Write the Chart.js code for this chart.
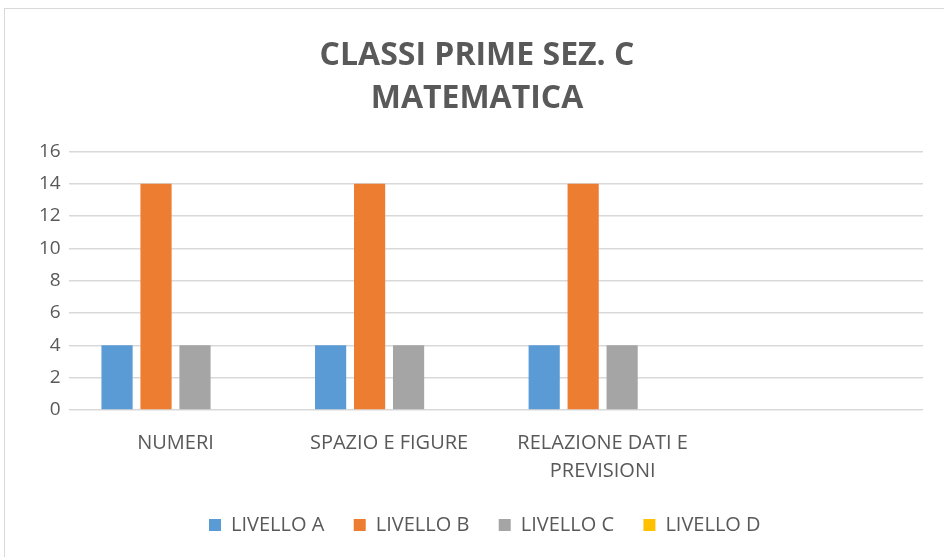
<!DOCTYPE html>
<html>
<head>
<meta charset="utf-8">
<script src="https://cdn.jsdelivr.net/npm/chart.js@4"></script>
<style>
	body { margin: 0; background: #fff; overflow: hidden; }
	#wrap { position: relative; width: 944px; height: 557px; overflow: hidden; }
	#frame { position: absolute; left: 4px; top: 8px; width: 940px; height: 549px; border-left: 1px solid #d9d9d9; border-top: 1px solid #d9d9d9; box-sizing: border-box; pointer-events: none; }
	canvas { position: absolute; left: 8px; top: 0; }
</style>
</head>
<body>
<div id="wrap">
	<canvas id="chart" width="944" height="557"></canvas>
	<div id="frame"></div>
</div>
<script>
const categories = ['NUMERI', 'SPAZIO E FIGURE', ['RELAZIONE DATI E', 'PREVISIONI'], ''];
const livelloA = [4, 4, 4, null];
const livelloB = [14, 14, 14, null];
const livelloC = [4, 4, 4, null];
const livelloD = [0, 0, 0, null];
const yTicks = [0, 2, 4, 6, 8, 10, 12, 14, 16];

const font = "'Open Sans', sans-serif";
const grey = '#595959';

// the legend sits a bit right of centre in the original
const legendNudge = {
	id: 'legendNudge',
	afterLayout(chart) {
		chart.legend.left += 13;
		chart.legend.right += 13;
	},
};

new Chart(document.getElementById('chart'), {
	type: 'bar',
	data: {
		labels: categories,
		datasets: [
			{ label: 'LIVELLO A', data: livelloA, backgroundColor: '#5b9bd5' },
			{ label: 'LIVELLO B', data: livelloB, backgroundColor: '#ed7d31' },
			{ label: 'LIVELLO C', data: livelloC, backgroundColor: '#a5a5a5' },
			{ label: 'LIVELLO D', data: livelloD, backgroundColor: '#ffc000' },
		],
	},
	plugins: [legendNudge],
	options: {
		responsive: false,
		animation: false,
		layout: { padding: { left: 23, right: 29, top: 34, bottom: 12 } },
		datasets: { bar: { barPercentage: 0.8, categoryPercentage: 0.73 } },
		plugins: {
			title: {
				display: true,
				text: ['CLASSI PRIME SEZ. C', 'MATEMATICA'],
				color: grey,
				font: { family: font, size: 32, weight: 'bold', lineHeight: 1.35 },
				padding: { top: 0, bottom: 31 },
			},
			legend: {
				position: 'bottom',
				labels: {
					color: grey,
					font: { family: font, size: 20 },
					boxWidth: 12,
					boxHeight: 12,
					padding: 19,
					// trailing spaces widen the gap between items without growing the legend's height
					generateLabels: (chart) => Chart.defaults.plugins.legend.labels.generateLabels(chart)
						.map(item => ({ ...item, text: item.text + '  ' })),
				},
			},
			tooltip: { enabled: false },
		},
		scales: {
			x: {
				grid: { display: false },
				border: { display: false },
				ticks: { color: grey, font: { family: font, size: 20, lineHeight: 1.4 }, maxRotation: 0, padding: 11 },
			},
			y: {
				min: 0,
				max: 16,
				afterBuildTicks: (axis) => { axis.ticks = yTicks.map(v => ({ value: v })); },
				grid: { color: '#d9d9d9', drawTicks: false, lineWidth: 1.5 },
				border: { display: false },
				ticks: { color: grey, font: { family: font, size: 19 }, padding: 8 },
			},
		},
	},
});
</script>
</body>
</html>
